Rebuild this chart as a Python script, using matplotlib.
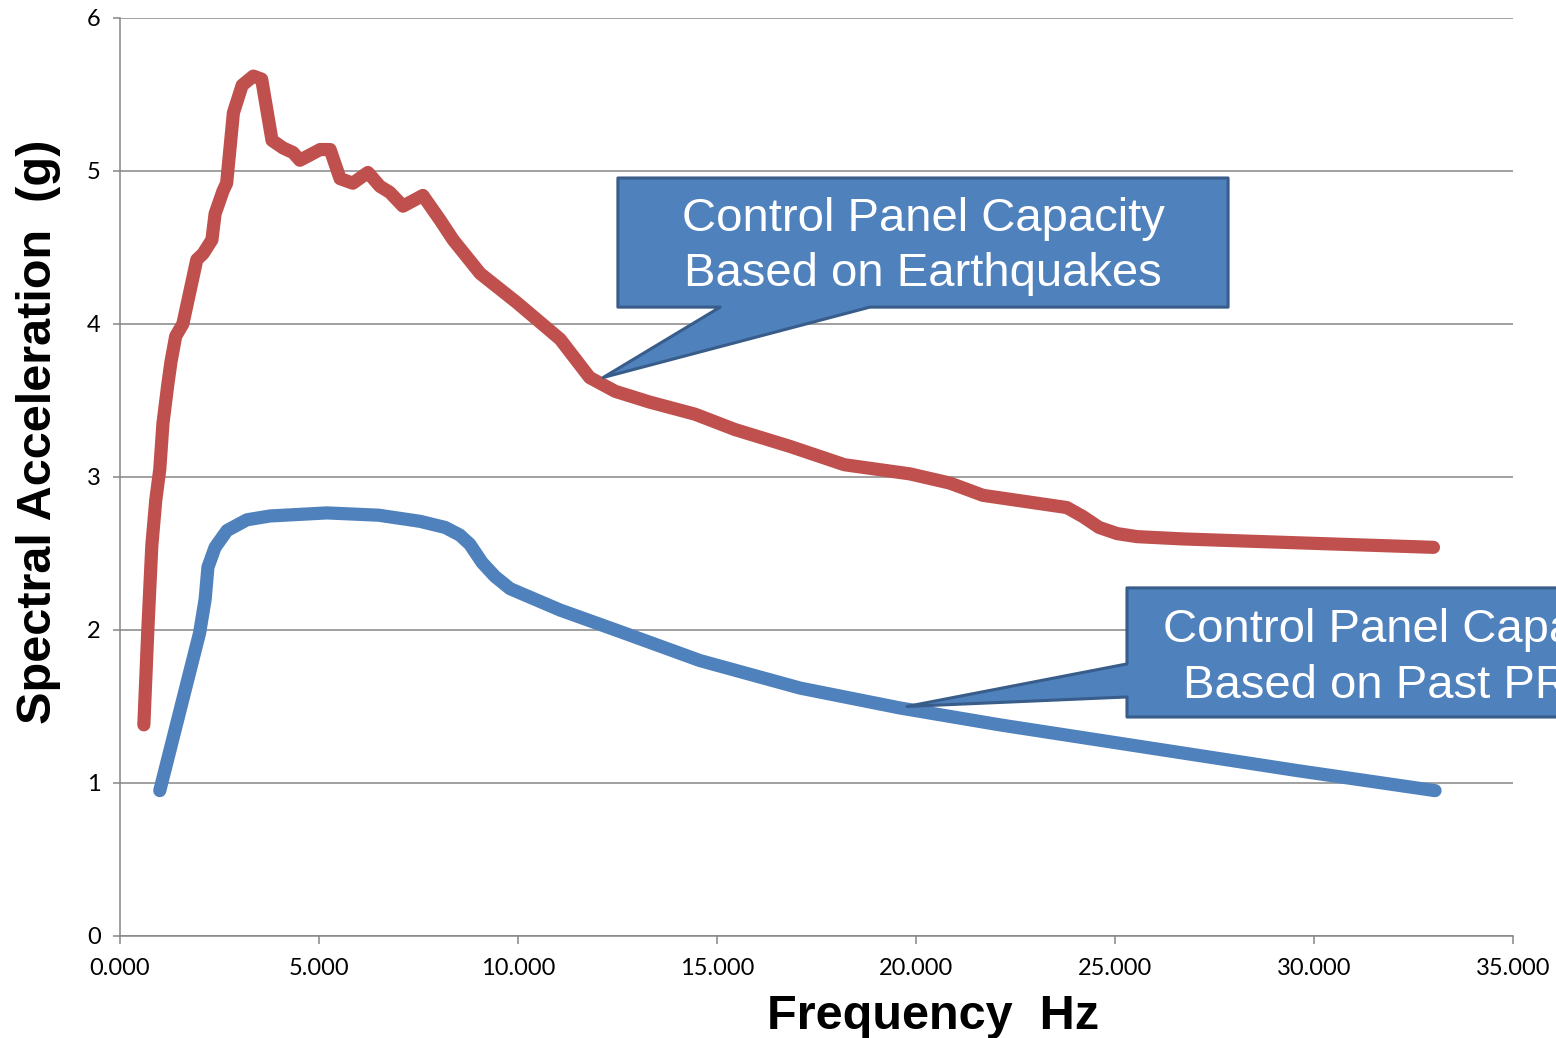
import matplotlib
matplotlib.use("Agg")
import matplotlib.pyplot as plt
from matplotlib.patches import Polygon

# earthquake-based capacity spectrum (red)
eq_freq = [0.60, 0.70, 0.80, 0.90, 1.00, 1.08, 1.20, 1.28, 1.40, 1.58, 1.93, 2.09,
           2.31, 2.39, 2.59, 2.68, 2.85, 3.07, 3.35, 3.56, 3.82, 4.10, 4.35, 4.52,
           5.03, 5.28, 5.53, 5.85, 6.23, 6.53, 6.78, 7.11, 7.61, 8.04, 8.37, 9.05,
           9.97, 11.06, 11.80, 12.44, 13.30, 14.45, 15.45, 16.83, 18.20, 19.85,
           20.85, 21.68, 23.79, 24.20, 24.60, 25.05, 25.55, 26.70, 28.40, 33.00]
eq_sa = [1.38, 2.00, 2.55, 2.85, 3.05, 3.35, 3.60, 3.75, 3.92, 4.00, 4.42, 4.46,
         4.55, 4.72, 4.87, 4.92, 5.38, 5.56, 5.62, 5.60, 5.20, 5.15, 5.12, 5.07,
         5.14, 5.14, 4.95, 4.92, 4.99, 4.90, 4.86, 4.77, 4.84, 4.68, 4.55, 4.33,
         4.14, 3.90, 3.65, 3.56, 3.49, 3.41, 3.31, 3.20, 3.08, 3.02,
         2.96, 2.88, 2.80, 2.74, 2.67, 2.63, 2.61, 2.595, 2.58, 2.54]

# PRA-based capacity spectrum (blue)
pra_freq = [1.00, 2.00, 2.14, 2.21, 2.39, 2.69, 3.19, 3.77, 5.20, 6.50, 7.54, 8.17,
            8.54, 8.79, 9.10, 9.42, 9.80, 11.06, 12.56, 14.57, 17.09, 19.60,
            22.10, 24.60, 27.10, 29.60, 33.04]
pra_sa = [0.95, 1.98, 2.20, 2.41, 2.54, 2.65, 2.72, 2.745, 2.765, 2.75, 2.71, 2.67,
          2.62, 2.56, 2.44, 2.35, 2.27, 2.13, 1.99, 1.80, 1.62, 1.49,
          1.38, 1.28, 1.18, 1.08, 0.95]

x_ticks = [0, 5, 10, 15, 20, 25, 30, 35]
y_ticks = [0, 1, 2, 3, 4, 5, 6]

eq_text = "Control Panel Capacity\nBased on Earthquakes"
pra_text = "Control Panel Capacity\nBased on Past PRAs"

red = "#C0504D"
blue = "#4F81BD"
grey = "#868686"

fig = plt.figure(figsize=(15.56, 10.38), dpi=100)
ax = fig.add_axes([0.0771, 0.0983, 0.8953, 0.8844])

ax.plot(eq_freq, eq_sa, color=red, lw=9.5, solid_capstyle="round",
        solid_joinstyle="round", zorder=3)
ax.plot(pra_freq, pra_sa, color=blue, lw=9.5, solid_capstyle="round",
        solid_joinstyle="round", zorder=3)

ax.set_xlim(0, 35)
ax.set_ylim(0, 6)
ax.set_xticks(x_ticks)
ax.set_xticklabels(["%.3f" % v for v in x_ticks])
ax.set_yticks(y_ticks)
ax.set_yticklabels([str(v) for v in y_ticks])

ax.grid(axis="y", color=grey, lw=1.1, zorder=0)
for side in ["top", "right"]:
    ax.spines[side].set_visible(False)
for side in ["left", "bottom"]:
    ax.spines[side].set_color(grey)
    ax.spines[side].set_linewidth(1.1)
ax.tick_params(axis="x", colors=grey, length=6, width=1.1, pad=10,
               labelcolor="black", labelsize=17)
ax.tick_params(axis="y", colors=grey, length=5, width=1.1, pad=9,
               labelcolor="black", labelsize=17)
for lab in ax.get_xticklabels() + ax.get_yticklabels():
    lab.set_family("Lato")

ax.set_xlabel("Frequency  Hz", fontsize=35, fontweight="bold",
              family="Liberation Sans")
ax.xaxis.set_label_coords(0.584, -0.0627)
ax.set_ylabel("Spectral Acceleration  (g)", fontsize=35, fontweight="bold",
              family="Liberation Sans")
ax.yaxis.set_label_coords(-0.042, 0.549)

# callout boxes with pointer tails
box_eq = [(12.51, 4.954), (27.84, 4.954), (27.84, 4.11), (18.84, 4.11),
          (12.14, 3.65), (15.08, 4.11), (12.51, 4.11)]
box_pra = [(25.30, 2.275), (37.5, 2.275), (37.5, 1.431), (25.30, 1.431),
           (25.30, 1.562), (19.77, 1.50), (25.30, 1.778)]
for pts in [box_eq, box_pra]:
    ax.add_patch(Polygon(pts, closed=True, facecolor=blue, edgecolor="#385D8A",
                         lw=2.2, joinstyle="round", clip_on=False, zorder=5))

ax.text(20.18, 4.504, eq_text, ha="center", va="center", color="white",
        fontsize=34, family="Liberation Sans", linespacing=1.33, zorder=6)
ax.text(32.26, 1.817, pra_text, ha="center", va="center", color="white",
        fontsize=34, family="Liberation Sans", linespacing=1.33, zorder=6,
        clip_on=False)

fig.savefig("out.png", dpi=100, facecolor="white")
